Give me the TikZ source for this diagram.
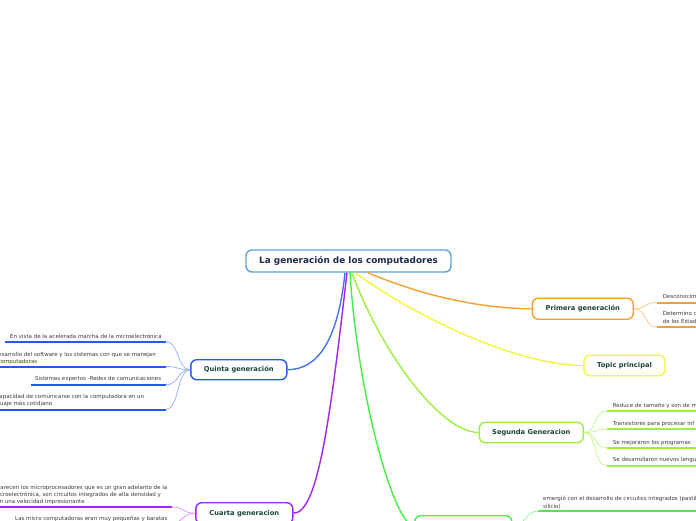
\documentclass[tikz,border=0pt]{standalone}
\usepackage{fontspec}
\setmainfont{DejaVu Sans}
\definecolor{rootc}{HTML}{5CA4DC}
\definecolor{roottext}{HTML}{1C2B4F}
\definecolor{topictext}{HTML}{1B4634}
\definecolor{subtext}{HTML}{3A3A3A}
\definecolor{bluec}{HTML}{2459F0}
\definecolor{purplec}{HTML}{A224F0}
\definecolor{greenc}{HTML}{46F046}
\definecolor{lgreenc}{HTML}{9CF03C}
\definecolor{yellowc}{HTML}{F5F53A}
\definecolor{orangec}{HTML}{F7A030}
\newcommand\subline[5]{%
  \coordinate (#1a) at (#2,#4);
  \coordinate (#1b) at (#3,#4);
  \draw[uline,#5] (#1a) -- (#1b);}
\begin{document}
\begin{tikzpicture}[x=1pt,y=-1pt,
  topic/.style={draw, rounded corners=6pt, line width=1.4pt, fill=white, inner sep=0pt,
    minimum height=21pt, font=\fontsize{6.7}{7.5}\selectfont\bfseries, text=topictext},
  subtxt/.style={anchor=north west, inner sep=0pt, align=left,
    font=\fontsize{5.5}{7.2}\selectfont, text=subtext},
  branch/.style={line width=1.4pt},
  twig/.style={line width=0.8pt},
  uline/.style={line width=2pt}]
\useasboundingbox (0,0) rectangle (696,520);
\clip (0,0) rectangle (696,520);

% main nodes
\node[topic, draw=rootc, minimum width=205pt, minimum height=22pt,
  font=\fontsize{8.9}{10}\selectfont\bfseries, text=roottext] (root) at (348.5,261) {La generación de los computadores};
\node[topic, draw=orangec, minimum width=101pt] (g1) at (582.8,308.7) {Primera generación};
\node[topic, draw=yellowc, minimum width=81pt, minimum height=20.5pt] (tp) at (624.5,365.5) {Topic principal};
\node[topic, draw=lgreenc, minimum width=104pt, minimum height=20.5pt] (g2) at (531.3,432.5) {Segunda Generacion};
\node[topic, draw=bluec, minimum width=96pt, minimum height=20pt] (g5) at (238.8,369.7) {Quinta generación};
\node[topic, draw=purplec, minimum width=97pt] (g4) at (244.3,513.2) {Cuarta generacion};
\node[topic, draw=greenc, minimum width=97pt] (g3) at (463.3,526.2) {};

% start points on root
\coordinate (rb) at ([xshift=-3.5pt]root.south);
\coordinate (rp) at ([xshift=-1.5pt]root.south);
\coordinate (rg) at ([xshift=1.5pt]root.south);
\coordinate (rl) at ([xshift=3.5pt]root.south);
\coordinate (ry) at ([xshift=6.5pt]root.south);
\coordinate (ro) at ([xshift=19.5pt]root.south);

\draw[branch, bluec!85!white] (rb) .. controls (338,340) and (318,369.7) .. (g5.east);
\draw[branch, purplec] (rp) .. controls (330,420) and (318,513.2) .. (g4.east);
\draw[branch, greenc] (rg) .. controls (358,400) and (395,526.2) .. (g3.west);
\draw[branch, lgreenc] (rl) .. controls (380,350) and (440,432.5) .. (g2.west);
\draw[branch, yellowc] (ry) .. controls (420,320) and (520,365.5) .. (tp.west);
\draw[branch, orangec] (ro) .. controls (420,295) and (480,308.7) .. (g1.west);

% Quinta generacion
\node[subtxt] (q1t) at (10,334.2) {En vista de la acelerada marcha de la microelectrónica};
\subline{q1}{5}{166}{341.7}{bluec}
\node[subtxt] (q2t) at (-12,352.2) {El desarrollo del software y los sistemas con que se manejan\\las computadoras};
\subline{q2}{-5}{166}{366.5}{bluec}
\node[subtxt] (q3t) at (35,376.1) {Sistemas expertos -Redes de comunicaciones};
\subline{q3}{31}{166}{384.8}{bluec}
\node[subtxt] (q4t) at (-12,394.2) {La capacidad de comunicarse con la computadora en un\\lenguaje más cotidiano};
\subline{q4}{-5}{166}{409.5}{bluec}
\foreach \k in {q1,q2,q3,q4}
  \draw[twig, bluec!45!white] (g5.west) .. controls +(-13,0) and +(13,0) .. (\k b);

% Cuarta generacion
\node[subtxt] (c1t) at (-7,484.7) {Aparecen los microprocesadores que es un gran adelanto de la\\microelectrónica, son circuitos integrados de alta densidad y\\con una velocidad impresionante};
\subline{c1}{-5}{172}{507}{purplec}
\node[subtxt] (c2t) at (15,515.6) {Las micro computadoras eran muy pequeñas y baratas};
\subline{c2}{-5}{168}{525}{purplec}
\foreach \k in {c1,c2}
  \draw[twig, purplec!45!white] (g4.west) .. controls +(-13,0) and +(13,0) .. (\k b);

% Tercera (bottom green)
\node[subtxt] (e1t) at (543,496.2) {emergió con el desarrollo de circuitos integrados (pastillas de\\silicio)};
\subline{e1}{538}{700}{511}{greenc}
\draw[twig, greenc!55!white] (g3.east) .. controls +(13,0) and +(-13,0) .. (e1a);

% Segunda generacion
\node[subtxt] (s1t) at (612.7,403.1) {Reduce de tamaño y son de m};
\subline{s1}{606.7}{700}{411}{lgreenc}
\node[subtxt] (s2t) at (612.7,421.4) {Transistores para procesar inf};
\subline{s2}{606.7}{700}{429.3}{lgreenc}
\node[subtxt] (s3t) at (612.7,439.8) {Se mejoraron los programas};
\subline{s3}{606.7}{700}{447.7}{lgreenc}
\node[subtxt] (s4t) at (612.7,457.4) {Se desarrollaron nuevos lengu};
\subline{s4}{606.7}{700}{465.7}{lgreenc}
\foreach \k in {s1,s2,s3,s4}
  \draw[twig, lgreenc!55!white] (g2.east) .. controls +(13,0) and +(-13,0) .. (\k a);

% Primera generacion
\node[subtxt] (p1t) at (662.7,294.1) {Desconocim};
\subline{p1}{657}{700}{302.5}{orangec}
\node[subtxt] (p2t) at (662.7,311.6) {Determino c\\de los Estad};
\subline{p2}{657}{700}{327.3}{orangec}
\foreach \k in {p1,p2}
  \draw[twig, orangec!55!white] (g1.east) .. controls +(13,0) and +(-13,0) .. (\k a);
\end{tikzpicture}
\end{document}
